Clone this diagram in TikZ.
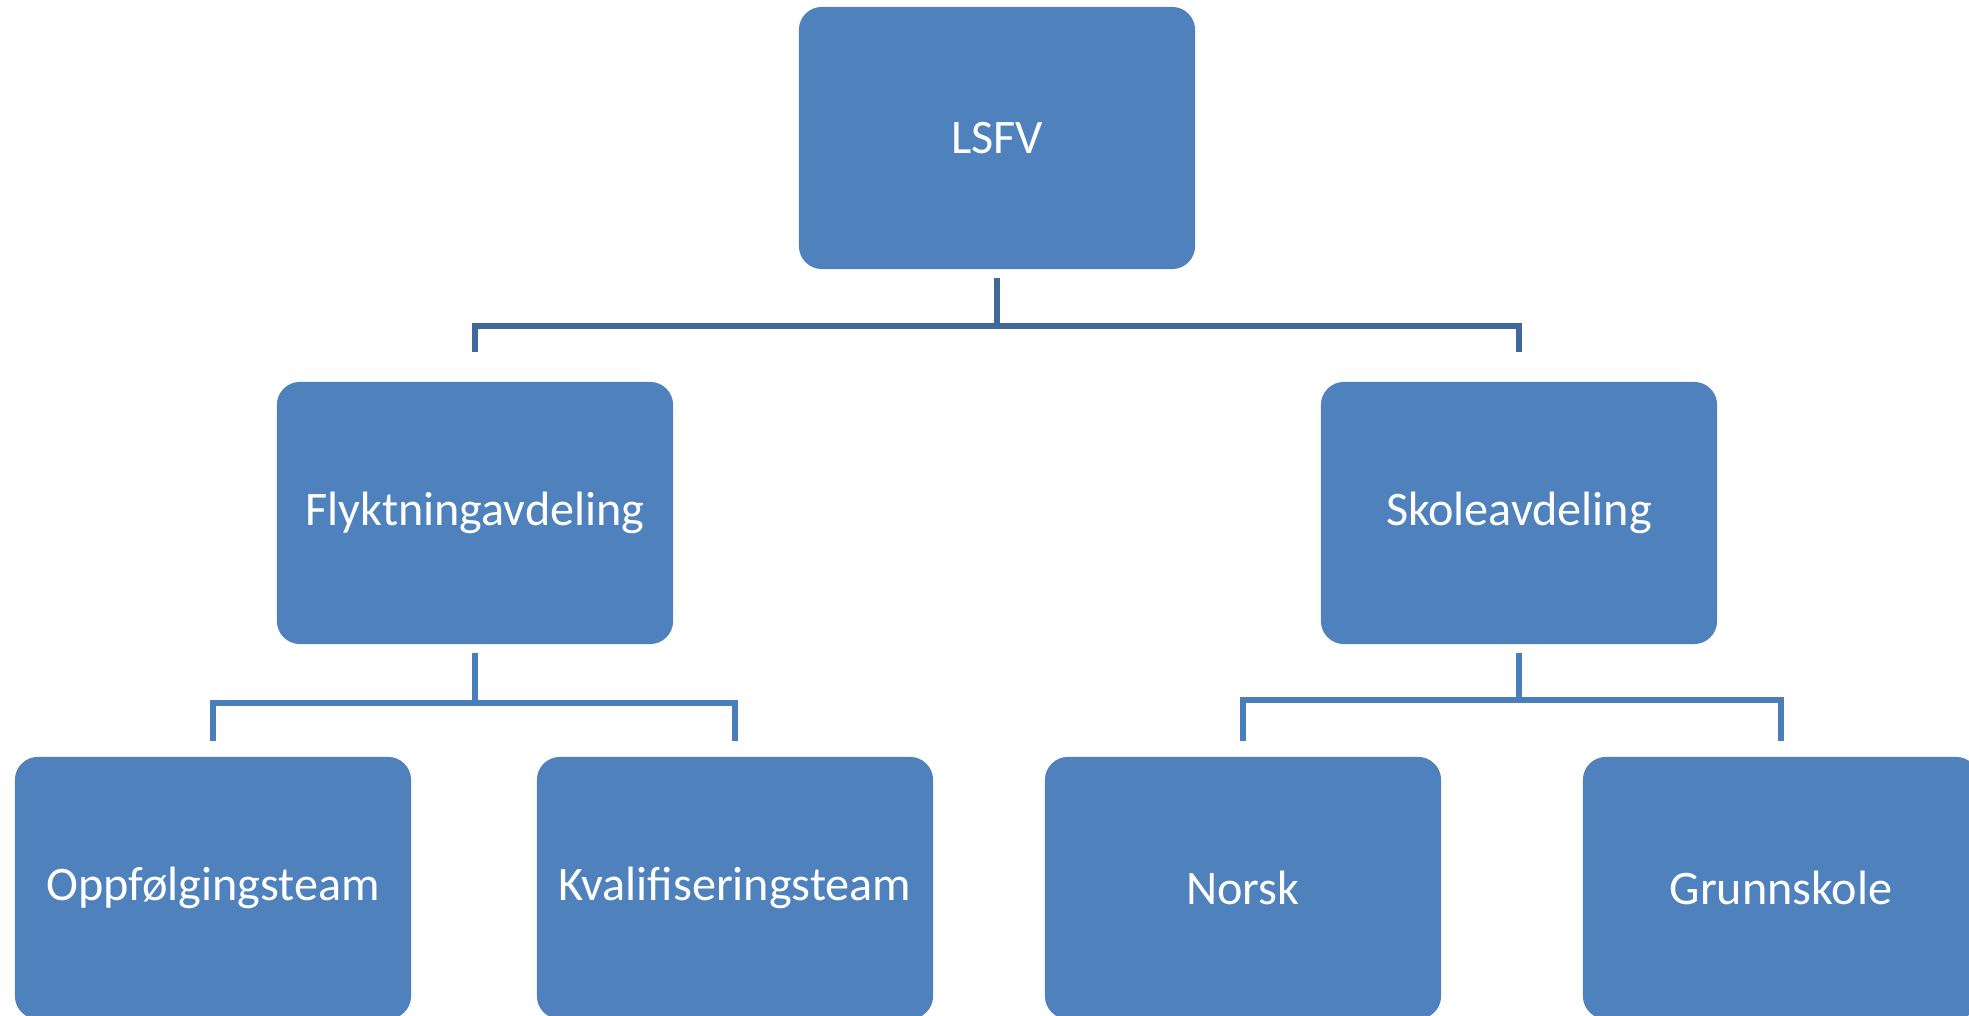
\documentclass[tikz,border=0pt]{standalone}
\usepackage{fontspec}
\setmainfont{Carlito}
\definecolor{boxblue}{HTML}{4F81BD}
\definecolor{topline}{HTML}{41689A}
\definecolor{lowline}{HTML}{4A7EBB}
\tikzset{
  unit/.style={draw=none,fill=boxblue,rounded corners=0.23cm,minimum width=3.96cm,minimum height=2.62cm,
    text=white,font=\fontsize{13.7pt}{16pt}\selectfont,inner sep=0pt},
  link/.style={line width=1.55pt,line cap=rect},
}
\begin{document}
\begin{tikzpicture}[x=0.01cm,y=-0.01cm]
\useasboundingbox (0,0) rectangle (1969,1016);
\node[unit] (lsfv) at (997,138) {LSFV};
\node[unit] (flykt) at (475,513) {Flyktningavdeling};
\node[unit] (skole) at (1519,513) {Skoleavdeling};
\node[unit] (oppf) at (213,888) {Oppfølgingsteam};
\node[unit] (kval) at (735,888) {Kvalifiseringsteam};
\node[unit] (norsk) at (1243,888) {Norsk};
\node[unit] (grunn) at (1781,888) {Grunnskole};
\coordinate (bus0) at (997,326);
\coordinate (bus1) at (475,703);
\coordinate (bus2) at (1519,700);
\draw[link,topline,shorten <=3,shorten >=9] (lsfv.south) -- (bus0) -| (flykt.north);
\draw[link,topline,shorten <=3,shorten >=9] (lsfv.south) -- (bus0) -| (skole.north);
\draw[link,lowline,shorten <=3,shorten >=5] (flykt.south) -- (bus1) -| (oppf.north);
\draw[link,lowline,shorten <=3,shorten >=5] (flykt.south) -- (bus1) -| (kval.north);
\draw[link,lowline,shorten <=3,shorten >=5] (skole.south) -- (bus2) -| (norsk.north);
\draw[link,lowline,shorten <=3,shorten >=5] (skole.south) -- (bus2) -| (grunn.north);
\end{tikzpicture}
\end{document}
